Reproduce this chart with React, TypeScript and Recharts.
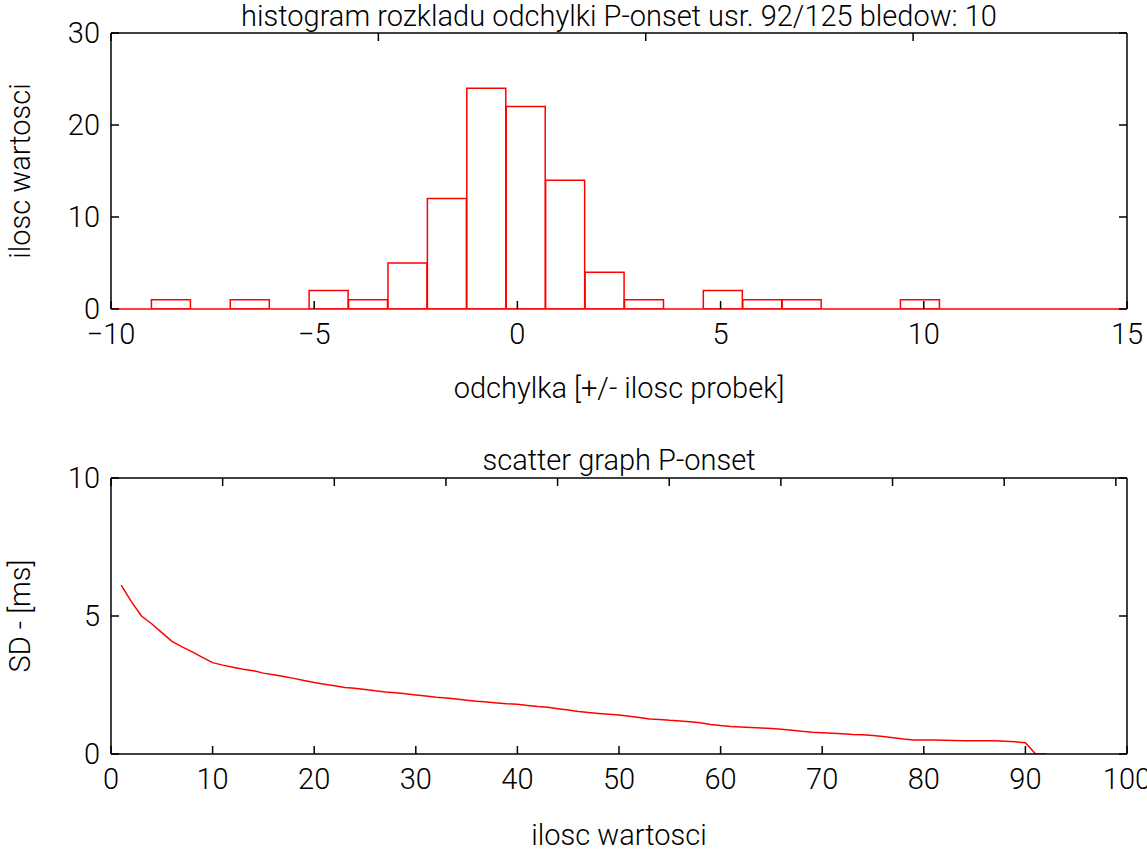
import {
  ComposedChart,
  Bar,
  Line,
  XAxis,
  YAxis,
  ReferenceLine,
} from "recharts";

// histogram bins (centres) and counts
const histBins = [
  -8.52, -7.55, -6.58, -5.61, -4.64, -3.67, -2.7, -1.73, -0.76, 0.21,
  1.18, 2.15, 3.12, 4.09, 5.06, 6.03, 7.0, 7.97, 8.94, 9.91,
];
const histCounts = [1, 0, 1, 0, 2, 1, 5, 12, 24, 22, 14, 4, 1, 0, 2, 1, 1, 0, 0, 1];
const histXTicks = [-10, -5, 0, 5, 10, 15];
const histYTicks = [0, 10, 20, 30];

// SD curve, one value per sample (sorted)
const sdValues = [
  6.12, 5.52, 5.0, 4.72, 4.4, 4.08, 3.88, 3.7, 3.5, 3.31,
  3.22, 3.14, 3.07, 3.02, 2.93, 2.87, 2.81, 2.74, 2.66, 2.59,
  2.53, 2.47, 2.41, 2.38, 2.34, 2.29, 2.25, 2.22, 2.18, 2.14,
  2.1, 2.06, 2.03, 1.99, 1.95, 1.91, 1.88, 1.85, 1.82, 1.8,
  1.76, 1.72, 1.69, 1.64, 1.59, 1.54, 1.5, 1.47, 1.44, 1.41,
  1.37, 1.32, 1.27, 1.25, 1.22, 1.2, 1.17, 1.13, 1.07, 1.03,
  1.0, 0.98, 0.96, 0.94, 0.92, 0.9, 0.86, 0.82, 0.79, 0.77,
  0.75, 0.73, 0.71, 0.7, 0.67, 0.63, 0.59, 0.54, 0.51, 0.51,
  0.51, 0.5, 0.49, 0.48, 0.48, 0.48, 0.48, 0.46, 0.44, 0.41,
  0, 0,
];
const sdXTicks = [0, 10, 20, 30, 40, 50, 60, 70, 80, 90, 100];
const sdYTicks = [0, 5, 10];

const histData = histBins.map((x, i) => ({ x, count: histCounts[i] }));
const sdData = sdValues.map((sd, i) => ({ n: i + 1, sd }));

const FONT = 'Roboto, "Liberation Sans Narrow", sans-serif';
const RED = "#ff0000";
const AX = { stroke: "#000", strokeWidth: 1.5 };
const TL = { stroke: "#000", strokeWidth: 1.5 };
const tickText = { fill: "#000", fontSize: 29, fontWeight: 300 };
const labelStyle = { fontSize: 29, fill: "#000", fontWeight: 300 };
const fmt = (v: number) => (v < 0 ? `\u2212${-v}` : `${v}`);
const blank = () => "";

export default function App() {
  return (
    <div
      style={{
        position: "absolute",
        left: 0,
        top: 0,
        width: 1147,
        height: 849,
        background: "#fff",
        fontFamily: FONT,
      }}
    >
      {/* histogram */}
      <div style={{ position: "absolute", left: 0, top: 0 }}>
        <ComposedChart
          width={1147}
          height={404}
          data={histData}
          margin={{ top: 23, right: 0, bottom: 0, left: 0 }}
          barCategoryGap={0}
          barGap={0}
        >
          <XAxis
            dataKey="x"
            type="number"
            domain={[-10, 15]}
            ticks={histXTicks}
            allowDataOverflow
            height={95}
            axisLine={false}
            tickLine={TL}
            tickSize={-8}
            tickMargin={22}
            tick={tickText}
            tickFormatter={fmt}
            interval={0}
            label={{ value: "odchylka [+/- ilosc probek]", position: "insideBottom", offset: 6, ...labelStyle }}
          />
          <XAxis
            xAxisId="top"
            orientation="top"
            type="number"
            domain={[-10, 15]}
            ticks={histXTicks}
            allowDataOverflow
            height={10}
            axisLine={AX}
            tickLine={TL}
            tickSize={-8}
            tickFormatter={blank}
            interval={0}
            label={{ value: "histogram rozkladu odchylki P-onset usr. 92/125 bledow: 10", position: "top", offset: -3, ...labelStyle }}
          />
          <YAxis
            type="number"
            domain={[0, 30]}
            ticks={histYTicks}
            allowDataOverflow
            width={111}
            axisLine={AX}
            tickLine={TL}
            tickSize={-8}
            tickMargin={19}
            tick={tickText}
            interval={0}
            label={{ value: "ilosc wartosci", angle: -90, position: "insideLeft", offset: 20, ...labelStyle, style: { textAnchor: "middle" } }}
          />
          <YAxis
            yAxisId="right"
            orientation="right"
            type="number"
            domain={[0, 30]}
            ticks={histYTicks}
            allowDataOverflow
            width={20}
            axisLine={AX}
            tickLine={TL}
            tickSize={-8}
            tickFormatter={blank}
            interval={0}
          />
          <Bar dataKey="count" fill="none" stroke={RED} strokeWidth={1.5} isAnimationActive={false} />
          <ReferenceLine y={0} stroke={RED} strokeWidth={1.5} />
        </ComposedChart>
      </div>

      {/* SD curve */}
      <div style={{ position: "absolute", left: 0, top: 404 }}>
        <ComposedChart
          width={1147}
          height={445}
          data={sdData}
          margin={{ top: 64, right: 0, bottom: 0, left: 0 }}
        >
          <XAxis
            dataKey="n"
            type="number"
            domain={[0, 100]}
            ticks={sdXTicks}
            allowDataOverflow
            height={95}
            axisLine={AX}
            tickLine={TL}
            tickSize={-8}
            tickMargin={22}
            tick={tickText}
            interval={0}
            label={{ value: "ilosc wartosci", position: "insideBottom", offset: 4, ...labelStyle }}
          />
          <XAxis
            xAxisId="top"
            orientation="top"
            type="number"
            domain={[0, 100]}
            ticks={sdXTicks}
            allowDataOverflow
            height={10}
            axisLine={AX}
            tickLine={TL}
            tickSize={-8}
            tickFormatter={blank}
            interval={0}
            label={{ value: "scatter graph P-onset", position: "top", offset: -2, ...labelStyle }}
          />
          <YAxis
            type="number"
            domain={[0, 10]}
            ticks={sdYTicks}
            allowDataOverflow
            width={111}
            axisLine={AX}
            tickLine={TL}
            tickSize={-8}
            tickMargin={19}
            tick={tickText}
            interval={0}
            label={{ value: "SD - [ms]", angle: -90, position: "insideLeft", offset: 20, ...labelStyle, style: { textAnchor: "middle" } }}
          />
          <YAxis
            yAxisId="right"
            orientation="right"
            type="number"
            domain={[0, 10]}
            ticks={sdYTicks}
            allowDataOverflow
            width={20}
            axisLine={AX}
            tickLine={TL}
            tickSize={-8}
            tickFormatter={blank}
            interval={0}
          />
          <Line
            dataKey="sd"
            type="linear"
            stroke={RED}
            strokeWidth={1.5}
            dot={false}
            isAnimationActive={false}
          />
        </ComposedChart>
      </div>
    </div>
  );
}
